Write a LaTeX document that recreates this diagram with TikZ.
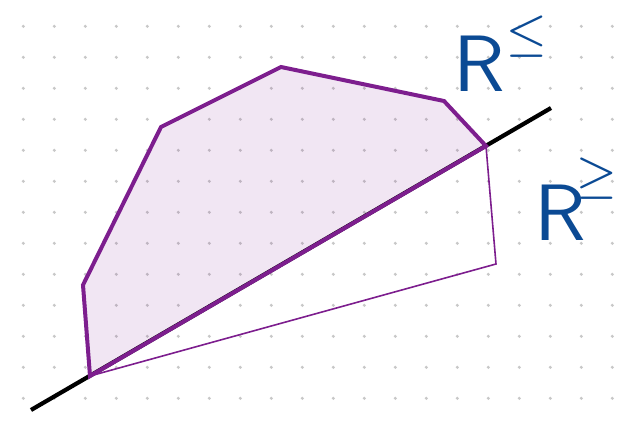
\documentclass[tikz,border=0pt]{standalone}
\usepackage{tikz}
\usetikzlibrary{calc}
\definecolor{hullPurple}{HTML}{7D1E8E}
\definecolor{inkBlue}{HTML}{0B4A94}
\definecolor{dotGray}{HTML}{C8C8C8}
\tikzset{DOT/.style={fill=dotGray}}
\tikzset{HULL/.style={draw=hullPurple, line width=4pt, line join=miter, fill=hullPurple, fill opacity=0.11}}
\tikzset{THIN/.style={draw=hullPurple, line width=1.6pt, line join=miter}}
\tikzset{CUT/.style={line width=4.2pt, black}}
\tikzset{LABEL/.style={inkBlue, inner sep=0pt, anchor=base west, scale=8}}

\begin{document}
\begin{tikzpicture}[x=1pt, y=-1pt]
    \useasboundingbox (0,0) rectangle (625,424);

    % dotted paper
    \foreach \i in {0,...,19}
        \foreach \j in {0,...,12}
            \fill[DOT] ({23.3+31*\i}, {26.3+31*\j}) circle (1.7);

    \coordinate (c_low)  at (31, 410);
    \coordinate (c_high) at (551, 108);

    \coordinate (v_a) at (90, 376);
    \coordinate (v_b) at (83, 285);
    \coordinate (v_c) at (161, 127);
    \coordinate (v_d) at (281, 67);
    \coordinate (v_e) at (444, 101);
    \coordinate (v_f) at (486, 146);
    \coordinate (v_g) at (496, 264);

    \draw[CUT] (c_low) -- (c_high);
    \draw[THIN] (v_a) -- (v_g) -- (v_f);
    \draw[HULL] (v_a) -- (v_b) -- (v_c) -- (v_d) -- (v_e) -- (v_f) -- cycle;

    \node[LABEL] (n_le) at (452, 91) {$\mathsf{R}^{\raisebox{1.7pt}{\scalebox{0.85}{$\scriptstyle\le$}}}$};
    \node[LABEL] (n_ge) at (533, 240) {$\mathsf{R}^{\hspace{-1.4pt}\raisebox{2.6pt}{\scalebox{0.85}{$\scriptstyle\ge$}}}$};
\end{tikzpicture}
\end{document}
